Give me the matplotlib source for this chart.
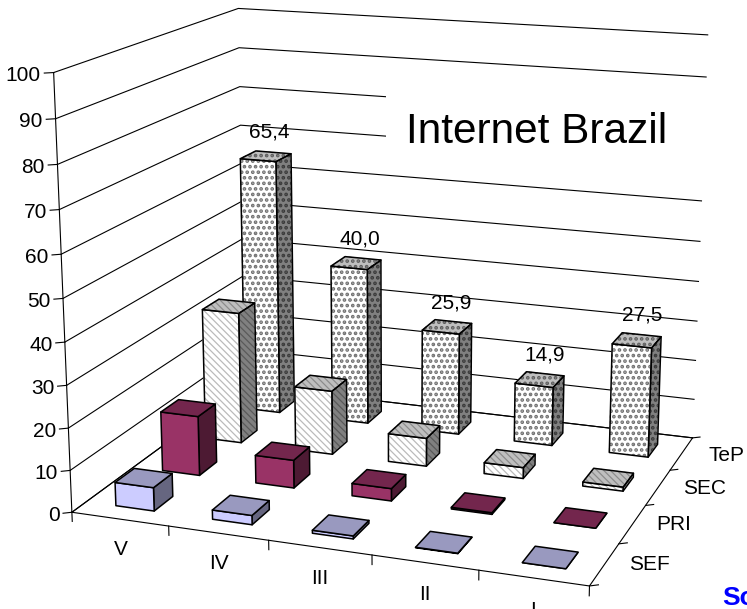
import numpy as np
import matplotlib
matplotlib.use("Agg")
import matplotlib.pyplot as plt
from mpl_toolkits.mplot3d import proj3d
from mpl_toolkits.mplot3d.art3d import Poly3DCollection

plt.rcParams['font.family'] = ['Liberation Sans', 'DejaVu Sans']
plt.rcParams['hatch.linewidth'] = 1.0

quarters = ["V", "IV", "III", "II", "I"]
levels = ["SEF", "PRI", "SEC", "TeP"]
sef = [5.6, 2.2, 0.7, 0.1, 0.0]
pri = [14.6, 6.8, 3.0, 0.4, 0.0]
sec = [33.0, 16.0, 7.0, 2.7, 1.0]
tep = [65.4, 40.0, 25.9, 14.9, 27.5]
tep_labels = ["65,4", "40,0", "25,9", "14,9", "27,5"]
z_ticks = list(range(0, 101, 10))

# (front, top, side) face colour and hatch colour for each series
styles = [
    {"faces": ("#CCCCFF", "#9999BF", "#666680"), "hatch": None, "ink": None},
    {"faces": ("#993366", "#73264D", "#4D1A33"), "hatch": None, "ink": None},
    {"faces": ("#FFFFFF", "#BFBFBF", "#808080"), "hatch": "\\\\\\\\\\",
     "ink": ("#BBBBBB", "#8C8C8C", "#5A5A5A")},
    {"faces": ("#FFFFFF", "#BFBFBF", "#808080"), "hatch": "...",
     "ink": ("#707070", "#5E5E5E", "#3A3A3A")},
]
series = [sef, pri, sec, tep]

W, H = 747, 609
fig = plt.figure(figsize=(W / 100, H / 100), dpi=100)
fig.patch.set_facecolor('white')

# camera fitted to the reference
side = 776.77
cx, cy = 385.97, 279.05
ax = fig.add_axes([(cx - side / 2) / W, 1 - (cy + side / 2) / H, side / W, side / H], projection='3d')
ax.computed_zorder = False
ax.view_init(15.3118, -69.9708, 0)
ax.set_box_aspect((1, 0.8030, 0.8327))
ax.set_proj_type('persp', focal_length=0.5264)
ax.set_xlim(0, 5, view_margin=0)
ax.set_ylim(0, 4, view_margin=0)
ax.set_zlim(0, 100, view_margin=0)
ax.set_axis_off()


def line(xs, ys, zs, lw=0.8):
    ax.plot(xs, ys, zs, color='k', lw=lw, clip_on=False, zorder=1)


def label(x, y, z, s, ha='center'):
    # 3D spot to the flat coordinates of the axes
    u, v, _ = proj3d.proj_transform(x, y, z, ax.get_proj())
    ax.text2D(u, v, s, transform=ax.transData, ha=ha, va='center_baseline', fontsize=15, zorder=500)


# floor, walls and ticks
line([0, 5, 5, 0, 0], [0, 0, 4, 4, 0], [0, 0, 0, 0, 0])
line([0, 0], [0, 0], [0, 100])
for z in z_ticks:
    line([0, 0, 5], [0, 4, 4], [z, z, z])
    line([0, -0.066], [0, -0.05], [z, z])
    label(-0.09, -0.068, z, str(z), ha='right')
for i in range(6):
    line([i, i], [0, 0], [0, -2.2])
for j in range(5):
    line([5, 5.066], [j, j + 0.05], [0, 0])

# category labels
for i, name in enumerate(quarters):
    label(i + 0.5, 0, -6.8, name)
level_shift = [-0.06, -0.07, 0, 0]
for j, name in enumerate(levels):
    label(5.40 + level_shift[j], j + 0.76, -0.8, name)


def add_face(verts, color, hatch, ink, order, hatch_lw):
    if hatch:
        plt.rcParams['hatch.linewidth'] = hatch_lw
        ax.add_collection3d(Poly3DCollection([verts], facecolor=color, edgecolor=ink, linewidth=0,
                                             hatch=hatch, zorder=order), autolim=False)
    else:
        ax.add_collection3d(Poly3DCollection([verts], facecolor=color, edgecolor=color, linewidth=0,
                                             zorder=order), autolim=False)
    ax.add_collection3d(Poly3DCollection([verts], facecolor=(0, 0, 0, 0), edgecolor='k', linewidth=1.1,
                                         zorder=order + 0.5), autolim=False)


def add_bar(x0, y0, height, style, order, w=0.4):
    x1, y1 = x0 + w, y0 + w
    front = [(x0, y0, 0), (x1, y0, 0), (x1, y0, height), (x0, y0, height)]
    top = [(x0, y0, height), (x1, y0, height), (x1, y1, height), (x0, y1, height)]
    right = [(x1, y0, 0), (x1, y1, 0), (x1, y1, height), (x1, y0, height)]
    ink = style["ink"] or (None, None, None)
    hatch_lw = 1.8 if style["hatch"] == "..." else 0.9
    add_face(right, style["faces"][2], style["hatch"], ink[2], order, hatch_lw)
    add_face(front, style["faces"][0], style["hatch"], ink[0], order + 1, hatch_lw)
    add_face(top, style["faces"][1], style["hatch"], ink[1], order + 2, hatch_lw)


# back row first, left to right, so that nearer bars cover the farther ones
order = 10
for j in reversed(range(len(levels))):
    for i in range(len(quarters)):
        add_bar(i + 0.3, j + 0.3, series[j][i], styles[j], order)
        order += 3

for i, lab in enumerate(tep_labels):
    label(i + 0.55, 3.5, tep[i] + 6.7, lab)

# white box of the title, it hides part of the wall lines
box = fig.add_axes([386 / W, 1 - 168 / H, 326 / W, 80 / H], zorder=2)
box.set_xticks([])
box.set_yticks([])
for sp in box.spines.values():
    sp.set_visible(False)
fig.text(406 / W, 1 - 143 / H, "Internet Brazil", fontsize=30.5, ha='left', va='baseline', zorder=3)

fig.text(722 / W, 1 - 605 / H, "Source", fontsize=19, fontweight='bold', color='#0000FF',
         ha='left', va='baseline')

plt.savefig("out.png", dpi=100)
